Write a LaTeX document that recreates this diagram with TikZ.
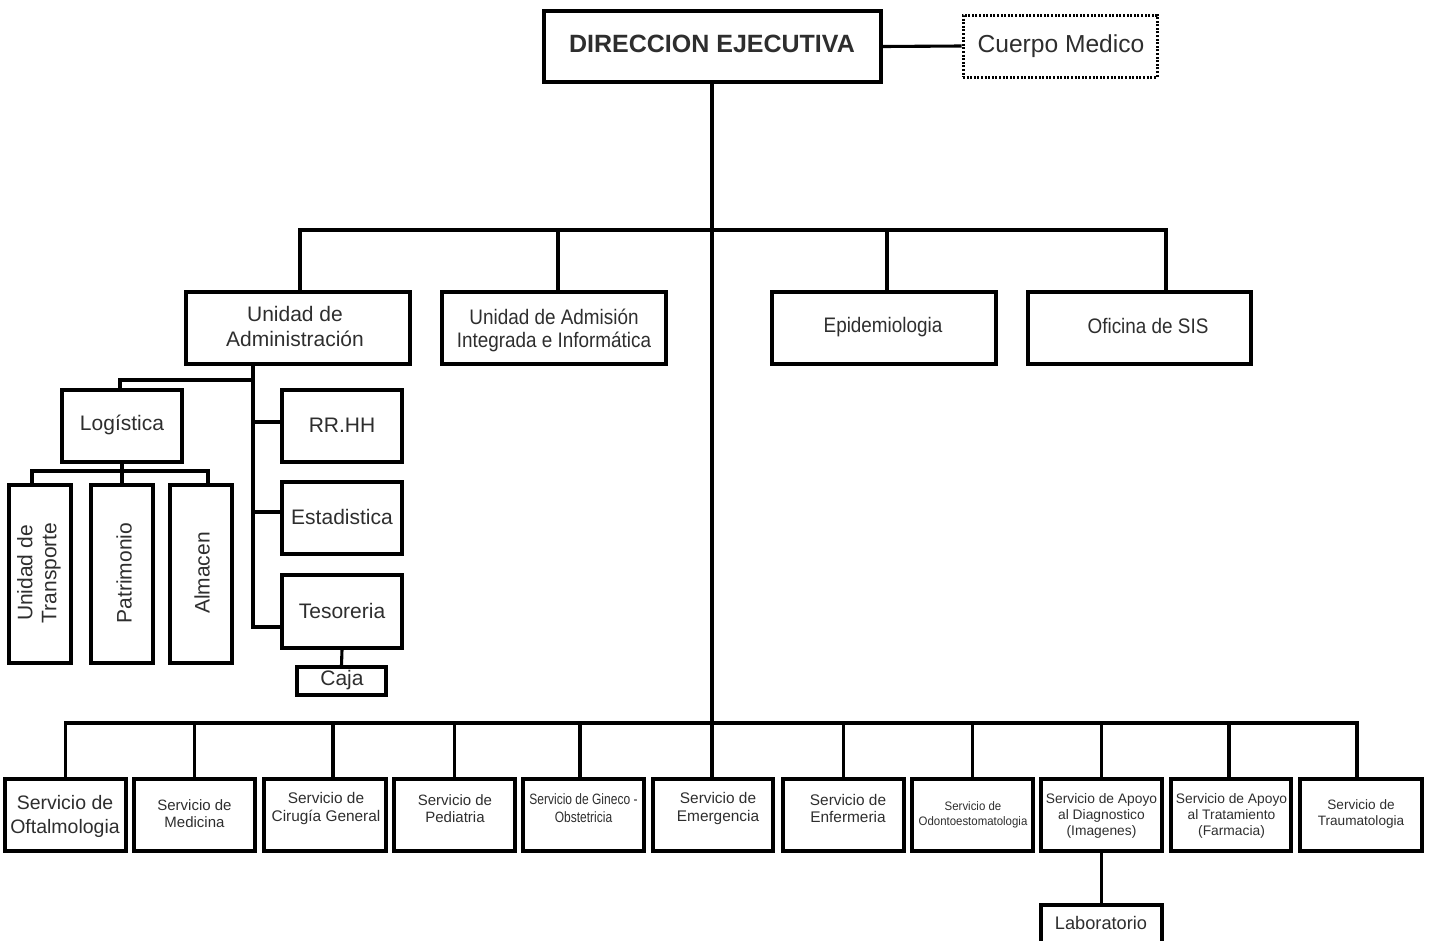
\documentclass[tikz,border=0pt]{standalone}
\usepackage{fontspec}
\setmainfont{Liberation Sans}
\newfontfamily\narrowA{Liberation Sans}[FakeStretch=0.9]
\newfontfamily\narrowB{Liberation Sans}[FakeStretch=0.8]
\newfontfamily\narrowC{Liberation Sans}[FakeStretch=0.93]
\newcommand\fsz[2]{\fontsize{#1}{#2}\selectfont}
\begin{document}
\begin{tikzpicture}[x=1pt,y=-1pt,
  box/.style={draw, line width=3.6pt, inner sep=0pt},
  bot/.style={box, minimum width=121pt, minimum height=72pt},
  mid/.style={box, minimum width=224pt, minimum height=72pt},
  sml/.style={box, minimum width=120pt, minimum height=72pt},
  vert/.style={box, minimum width=62pt, minimum height=178pt},
  txt/.style={inner sep=0pt, align=center, text=black!82},
  conn/.style={line width=3.1pt}]
\useasboundingbox (0,0) rectangle (1430,940);
\clip (0,0) rectangle (1430,940);
% top
\node[box, minimum width=337pt, minimum height=71pt] (dir) at (712.5,46.5) {};
\node[txt, font=\fsz{25}{30}\bfseries] (dir-t) at (712,44) {DIRECCION EJECUTIVA};
\node[draw, line width=3pt, dash pattern=on 2pt off 1.6pt, minimum width=194pt, minimum height=62pt, inner sep=0pt] (cm) at (1060,46) {};
\node[txt, font=\fsz{24.6}{28}] (cm-t) at (1061,46) {Cuerpo Medico};
% second level
\node[mid] (adm) at (298,328) {};
\node[txt, font=\fsz{21}{25}] (adm-t) at (295,326.5) {Unidad de\\Administración};
\node[mid] (uai) at (554,328) {};
\node[txt, font=\narrowA\fsz{21}{23}] (uai-t) at (554,330.5) {Unidad de Admisión\\Integrada e Informática};
\node[mid] (epi) at (884,328) {};
\node[txt, font=\narrowA\fsz{21}{23}] (epi-t) at (883,327) {Epidemiologia};
\node[mid, minimum width=223pt] (sis) at (1139.5,328) {};
\node[txt, font=\narrowA\fsz{21}{23}] (sis-t) at (1148,326) {Oficina de SIS};
% admin subtree
\node[sml] (log) at (122,426) {};
\node[txt, font=\fsz{21}{25}] (log-t) at (122,425) {Logística};
\node[sml] (rrhh) at (342,426) {};
\node[txt, font=\fsz{21}{25}] (rrhh-t) at (342,425) {RR.HH};
\node[sml] (est) at (342,518) {};
\node[txt, font=\fsz{21}{25}] (est-t) at (342,517) {Estadistica};
\node[sml, minimum height=73pt] (tes) at (342,611.5) {};
\node[txt, font=\fsz{21}{25}] (tes-t) at (342,611) {Tesoreria};
\node[box, minimum width=89pt, minimum height=28pt] (caja) at (341.5,681) {};
\node[txt, font=\fsz{21}{25}] (caja-t) at (342,680) {Caja};
\node[vert] (ut) at (40,574) {};
\node[txt, rotate=90, font=\fsz{21}{24}] (ut-t) at (39,573) {Unidad de\\Transporte};
\node[vert] (pat) at (122,574) {};
\node[txt, rotate=90, font=\fsz{21}{24}] (pat-t) at (124,573) {Patrimonio};
\node[vert] (alm) at (201,574) {};
\node[txt, rotate=90, font=\fsz{21}{24}] (alm-t) at (202,573) {Almacen};
% bottom row
\node[bot] (oft) at (65.5,815) {};
\node[txt, font=\fsz{19.5}{24}] (oft-t) at (65,816) {Servicio de\\Oftalmologia};
\node[bot] (med) at (194.5,815) {};
\node[txt, font=\fsz{15}{17.5}] (med-t) at (194.5,813.5) {Servicio de\\Medicina};
\node[bot, minimum width=122pt] (cir) at (325,815) {};
\node[txt, font=\fsz{15.4}{17.5}] (cir-t) at (326,808.5) {Servicio de\\Cirugía General};
\node[bot] (ped) at (454.5,815) {};
\node[txt, font=\fsz{15}{17.5}] (ped-t) at (455,808.5) {Servicio de\\Pediatria};
\node[bot] (gin) at (583.5,815) {};
\node[txt, font=\narrowB\fsz{15}{18}] (gin-t) at (583.5,808.5) {Servicio de Gineco -\\Obstetricia};
\node[bot, minimum width=120pt] (eme) at (713,815) {};
\node[txt, font=\fsz{15.4}{18}] (eme-t) at (718,809) {Servicio de\\Emergencia};
\node[bot] (enf) at (843.5,815) {};
\node[txt, font=\fsz{15.4}{17.5}] (enf-t) at (848,808.5) {Servicio de\\Enfermeria};
\node[bot] (odo) at (972.5,815) {};
\node[txt, font=\narrowC\fsz{12.3}{15}] (odo-t) at (973,814.5) {Servicio de\\Odontoestomatologia};
\node[bot] (apd) at (1101.5,815) {};
\node[txt, font=\fsz{13.8}{16}] (apd-t) at (1101.5,816) {Servicio de Apoyo\\al Diagnostico\\(Imagenes)};
\node[bot, minimum width=120pt] (apt) at (1231,815) {};
\node[txt, font=\fsz{13.8}{16}] (apt-t) at (1231.5,816) {Servicio de Apoyo\\al Tratamiento\\(Farmacia)};
\node[bot, minimum width=122pt] (tra) at (1361,815) {};
\node[txt, font=\fsz{13.6}{16}] (tra-t) at (1361,814) {Servicio de\\Traumatologia};
\node[box, minimum width=121pt, minimum height=60pt] (lab) at (1101.5,935) {};
\node[txt, font=\fsz{18.2}{22}] (lab-t) at (1101,923) {Laboratorio};
% connectors
\coordinate (busT) at (712,230);
\coordinate (busB) at (712,723);
\coordinate (admS) at (253,364);
\coordinate (admJ) at (253,380);
\coordinate (logL) at (32,471);
\coordinate (logR) at (208,471);
\draw[conn] (dir.east) -- (cm.west);
\draw[conn] ([xshift=-0.5pt]dir.south) -- ([xshift=-1pt]eme.north);
\draw[conn] ([xshift=2pt]adm.north) |- (busT) -| ([xshift=26.5pt]sis.north);
\draw[conn] ([xshift=4pt]uai.north) -- ([xshift=4pt]uai.north |- busT);
\draw[conn] ([xshift=3pt]epi.north) -- ([xshift=3pt]epi.north |- busT);
\draw[conn] (oft.north) |- (busB) -| ([xshift=-4pt]tra.north);
\draw[conn] (med.north) -- (med.north |- busB);
\draw[conn] ([xshift=8pt]cir.north) -- ([xshift=8pt]cir.north |- busB);
\draw[conn] (ped.north) -- (ped.north |- busB);
\draw[conn] ([xshift=-3.5pt]gin.north) -- ([xshift=-3.5pt]gin.north |- busB);
\draw[conn] (enf.north) -- (enf.north |- busB);
\draw[conn] (odo.north) -- (odo.north |- busB);
\draw[conn] (apd.north) -- (apd.north |- busB);
\draw[conn] ([xshift=-2pt]apt.north) -- ([xshift=-2pt]apt.north |- busB);
\draw[conn] (apd.south) -- (lab.north);
% admin subtree
\draw[conn] (admS) |- ([yshift=-15.5pt]tes.west);
\draw[conn] ([yshift=4pt]rrhh.west) -- ([yshift=4pt]rrhh.west -| admS);
\draw[conn] ([yshift=6pt]est.west) -- ([yshift=6pt]est.west -| admS);
\draw[conn] (admJ) -| ([xshift=-2pt]log.north);
\draw[conn] (log.south) -- (pat.north);
\draw[conn] (ut.north -| logL) -- (logL) -- (logR) -- (alm.north -| logR);
\draw[conn] (tes.south) -- (caja.north);
\end{tikzpicture}
\end{document}
